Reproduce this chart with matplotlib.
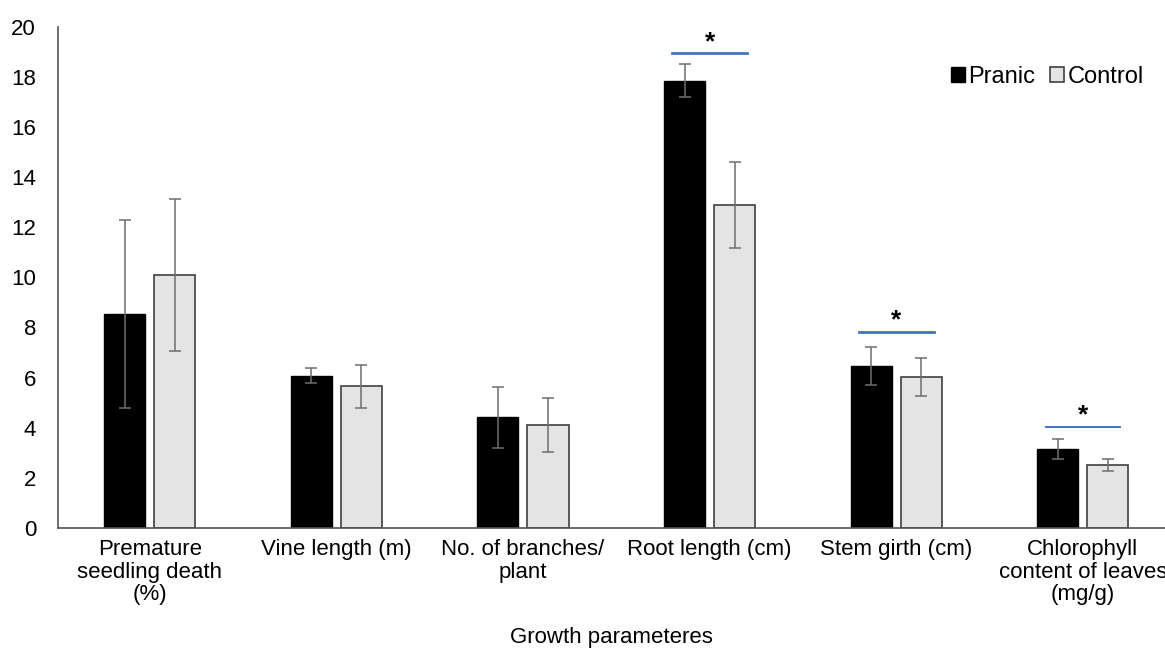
import matplotlib; matplotlib.use("Agg")
import matplotlib.pyplot as plt, numpy as np

cats = ["Premature\nseedling death\n(%)", "Vine length (m)", "No. of branches/\nplant",
        "Root length (cm)", "Stem girth (cm)", "Chlorophyll\ncontent of leaves\n(mg/g)"]
pranic = [8.55, 6.08, 4.41, 17.85, 6.47, 3.14]
pranic_err = [3.75, 0.30, 1.20, 0.66, 0.76, 0.39]
control = [10.09, 5.65, 4.12, 12.89, 6.01, 2.50]
control_err = [3.02, 0.87, 1.08, 1.72, 0.76, 0.24]
sig_idx = [3, 4, 5]
sig_y = [18.95, 7.83, 4.04]

plt.rcParams["font.family"] = ["Liberation Sans", "DejaVu Sans"]
x = np.arange(len(cats)); w = 0.22; off = 0.134
fig = plt.figure(figsize=(11.65, 6.55), dpi=100)
ax = fig.add_axes([0.05, 0.194, 0.95, 0.765])
ek = dict(ecolor="#6e6e6e", elinewidth=1.1, capsize=4, capthick=1.1)
ax.bar(x - off, pranic, w, yerr=pranic_err, color="black", edgecolor="black",
       linewidth=1, label="Pranic", error_kw=ek)
ax.bar(x + off, control, w, yerr=control_err, color="#e4e4e4", edgecolor="#404040",
       linewidth=1.2, label="Control", error_kw=ek)
for i, y in zip(sig_idx, sig_y):
    lw = 2.0 if i != 5 else 1.4
    ax.plot([x[i] - 0.2, x[i] + 0.2], [y, y], color="#4472c4", linewidth=lw)
    ax.text(x[i], y + 0.45, "*", ha="center", va="center", fontsize=19, fontweight="bold")
ax.set_xlim(-0.49, 5.44); ax.set_ylim(0, 20)
ax.set_yticks(range(0, 21, 2))
ax.set_xticks(x); ax.set_xticklabels(cats, fontsize=16, linespacing=1.1)
ax.tick_params(length=0, labelsize=16)
ax.tick_params(axis="x", pad=8); ax.tick_params(axis="y", pad=16)
ax.set_xlabel("Growth parameteres", fontsize=16, labelpad=16)
for sp in ("top", "right"): ax.spines[sp].set_visible(False)
ax.spines["left"].set_color("#555"); ax.spines["bottom"].set_color("#555")
ax.spines["left"].set_linewidth(1.2); ax.spines["bottom"].set_linewidth(1.2)
ax.legend(loc="upper right", bbox_to_anchor=(1.0, 0.965), ncol=2, frameon=False, fontsize=17,
          handlelength=0.6, handleheight=0.6, handletextpad=0.15, columnspacing=0.6)
fig.savefig("out.png", dpi=100)
